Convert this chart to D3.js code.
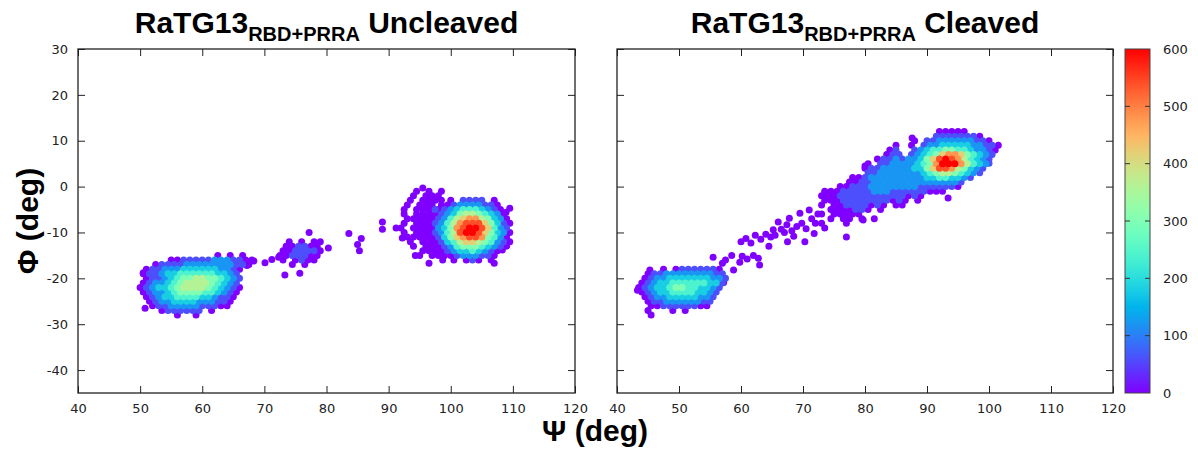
<!DOCTYPE html>
<html>
<head>
<meta charset="utf-8">
<script src="https://cdn.jsdelivr.net/npm/d3@7"></script>
<style>
  body { margin: 0; background: #fff; }
</style>
</head>
<body>
<div id="chart"></div>
<script>
// Axis ticks
const psiTicks = [40, 50, 60, 70, 80, 90, 100, 110, 120];
const phiTicks = [30, 20, 10, 0, -10, -20, -30, -40];
const cbTicks = [0, 100, 200, 300, 400, 500, 600];
const panelTitles = ["Uncleaved", "Cleaved"];

// Density: each row is [phi, first psi, cells],
// one cell per degree of psi, "." = no point, hex digit = density / 60
const uncleavedRows = [
    // cluster around psi 60
    [-15, 62.5, "0.0.0"],
    [-16, 55, "00111112221100"],
    [-17, 52.5, "0111122222222110"],
    [-18, 51, "0112223333332210"],
    [-19, 50.5, "0112334444443321"],
    [-20, 51, "0112345566554321"],
    [-21, 50.5, "0122345666654321"],
    [-22, 50, "01233456666543210"],
    [-23, 50.5, "0122345555443210"],
    [-24, 51, "012334444332110"],
    [-25, 51.5, "01223333222110"],
    [-26, 52, "0112222211100"],
    [-27, 53.5, "0111111.0"],
    [-28, 56, "0..0"],
    // small group around psi 75
    [-10, 77.2, "0"],
    [-12, 74, "0.0.00"],
    [-13, 73.5, "001100"],
    [-14, 73, "0011110"],
    [-15, 72.5, "0011100"],
    [-16, 73, "0.0100"],
    [-17, 74.5, "0.0"],
    // sparse shoulder left of the psi 103 cluster
    [-1, 94.5, "0.0.0"],
    [-2, 94, "0.000"],
    [-3, 93.5, "0.0000"],
    [-4, 93, "0.000"],
    [-5, 92.5, "0.0001"],
    [-6, 92.5, "0.000"],
    [-7, 92, ".0000"],
    [-8, 92.5, "0.00"],
    [-9, 92, "0.000"],
    [-10, 92.5, "0.00"],
    [-11, 93, "0000"],
    [-12, 93.5, "0.000"],
    [-13, 94, "0.00"],
    [-14, 95.5, "000"],
    [-15, 95, "0.00"],
    // cluster around psi 103
    [-3, 100, "0.1111.0"],
    [-4, 98.5, "0012222110"],
    [-5, 98, "01234443210"],
    [-6, 97.5, "012356654320"],
    [-7, 97, "0124678865320"],
    [-8, 96.5, "01246899975310"],
    [-9, 97, "023589aa97421"],
    [-10, 96.5, "012469aa975320"],
    [-11, 97, "0135789985420"],
    [-12, 97.5, "0134677654210"],
    [-13, 98, "012455543210"],
    [-14, 98.5, "0123343210"],
    [-15, 99, "001222110"],
    [-16, 100.5, "0.010.0"]
];
// scattered single points [psi, phi, density / 60]
const uncleavedSingles = [
    [50.5, -18.8, 0], [50.8, -26.5, 0], [66.5, -16.5, 0], [67.2, -17.2, 0],
    [68.3, -16.2, 0], [70.1, -16.6, 0], [71.2, -15.9, 0], [72.3, -15.4, 0],
    [73.3, -19.3, 0], [75.7, -18.9, 0], [80.3, -13.4, 0], [83.6, -10.2, 0],
    [85.0, -12.6, 0], [85.3, -14.0, 0], [85.6, -11.3, 0], [89.0, -7.7, 0],
    [89.0, -9.3, 0], [91.2, -9.0, 0], [92.2, -11.2, 0], [94.3, -15.0, 0],
    [96.5, -16.7, 0], [98.7, -16.0, 0], [107.0, -16.7, 0], [108.3, -13.8, 0],
    [109.5, -4.7, 0], [108.9, -5.6, 0], [104.3, -3.2, 0], [95.5, -0.3, 0]
];

const cleavedRows = [
    // cluster around psi 50
    [-18, 47.5, "0.01111110"],
    [-19, 45, "0112222222211"],
    [-20, 44.5, "01223333333221"],
    [-21, 44, "01233444444331"],
    [-22, 43.5, "01233455443321"],
    [-23, 44, "0123344443321"],
    [-24, 44.5, "012233333221"],
    [-25, 45, "01122222211"],
    [-26, 45.5, "0011111100"],
    [-27, 45, "0...0.0"],
    [-28, 45.5, "0"],
    // band psi 73-85
    [9, 73, "............0"],
    [8, 73, "...........01"],
    [7, 73.5, "..........011"],
    [6, 73, ".........0112"],
    [5, 73.5, ".......0.1122"],
    [4, 73, ".......011222"],
    [3, 73.5, ".......112222"],
    [2, 73, ".....00122222"],
    [1, 73.5, "....001122222"],
    [0, 73, "...0011122222"],
    [-1, 73.5, "0001111122211"],
    [-2, 73, "0001111111111"],
    [-3, 73.5, "0001111111101"],
    [-4, 73, "0.001111010.0"],
    [-5, 73.5, ".0000110.0"],
    [-6, 73, "0.00000"],
    [-7, 73.5, ".0.00.0.0"],
    [-8, 73, "0...0"],
    [-9, 73.5, "0"],
    [-11, 77, "0"],
    // cluster around psi 93
    [12, 86, "......00000"],
    [11, 86.5, ".....11111110"],
    [10, 86, "..0.11222222110"],
    [9, 86.5, ".0.1223333322110"],
    [8, 86, "..12344554432210"],
    [7, 86.5, ".12345788754321"],
    [6, 86, "1223579a9864321"],
    [5, 86.5, "223458aaa86432"],
    [4, 86, "22335799865321"],
    [3, 86.5, "2223456654321"],
    [2, 86, "222233443321"],
    [1, 86.5, "2222222221"],
    [0, 86, "2221111110"],
    [-1, 86.5, "1111000"],
    [-2, 86, "1010"],
    [-3, 86.5, "0.0"],
    [-4, 86, "0"]
];
const cleavedSingles = [
    [43.3, -22.6, 0], [45.3, -18.2, 0], [55.5, -15.4, 0], [57.0, -16.7, 0],
    [57.2, -20.9, 0], [57.5, -16.0, 0], [58.5, -15.0, 0], [58.8, -18.2, 0],
    [59.8, -16.5, 0], [60.2, -15.2, 0], [61.0, -15.8, 0], [62.0, -15.0, 0],
    [62.8, -15.6, 0], [63.0, -17.1, 0], [60.0, -12.0, 0], [60.8, -11.3, 0],
    [61.6, -12.3, 0], [62.3, -10.6, 0], [63.2, -11.5, 0], [64.0, -10.4, 0],
    [64.8, -11.0, 0], [65.2, -9.4, 0], [65.5, -10.6, 0], [66.0, -7.7, 0],
    [66.5, -9.3, 0], [67.0, -10.0, 0], [67.4, -8.3, 0], [67.8, -6.9, 0],
    [68.2, -9.6, 0], [68.5, -10.8, 0], [69.0, -8.7, 0], [69.5, -5.8, 0],
    [69.8, -8.0, 0], [70.3, -12.0, 0], [70.5, -9.2, 0], [71.0, -5.1, 0],
    [71.4, -7.0, 0], [72.4, -6.0, 0], [72.0, -8.0, 0], [71.8, -10.2, 0],
    [64.5, -13.0, 0], [67.5, -12.0, 0], [80.0, 4.5, 0], [83.7, 6.9, 0],
    [79.7, -7.3, 0], [93.4, -2.5, 0], [87.6, 10.6, 0], [100.0, 5.1, 1]
];

// gnuplot-like rainbow palette
function rainbow(d) {
    const t = Math.max(0, Math.min(1, d / 600));
    return d3.rgb(255 * Math.abs(2 * t - 0.5), 255 * Math.sin(Math.PI * t), 255 * Math.cos(Math.PI * t / 2)).formatHex();
}

function toPoints(rows, singles) {
    const pts = [];
    rows.forEach(([phi, psi0, cells]) => {
        cells.split("").forEach((c, i) => {
            if (c !== ".") pts.push({ psi: psi0 + i, phi: phi, d: parseInt(c, 16) * 60 });
        });
    });
    singles.forEach(([psi, phi, lvl]) => pts.push({ psi: psi, phi: phi, d: lvl * 60 }));
    return pts.sort((a, b) => a.d - b.d);
}

const width = 1198, height = 454;
const plotTop = 49, plotBottom = 393;
const svg = d3.select("#chart").append("svg")
    .attr("width", width)
    .attr("height", height);

const yScale = d3.scaleLinear().domain([-45, 30]).range([plotBottom, plotTop]);

const panels = [
    { title: panelTitles[0], x0: 78, x1: 575, pts: toPoints(uncleavedRows, uncleavedSingles), labels: true },
    { title: panelTitles[1], x0: 617, x1: 1113, pts: toPoints(cleavedRows, cleavedSingles), labels: false }
];

const tickFont = "'DejaVu Sans', sans-serif";

panels.forEach(p => {
    const xScale = d3.scaleLinear().domain([40, 120]).range([p.x0, p.x1]);
    const g = svg.append("g");

    // points
    g.selectAll("circle")
        .data(p.pts)
        .join("circle")
        .attr("cx", d => xScale(d.psi))
        .attr("cy", d => yScale(d.phi))
        .attr("r", 3.5)
        .attr("fill", d => rainbow(d.d));

    // axes with inward ticks
    g.append("g").attr("transform", `translate(0,${plotBottom})`)
        .call(d3.axisBottom(xScale).tickValues(psiTicks).tickSize(-7).tickSizeOuter(0).tickPadding(11));
    g.append("g").attr("transform", `translate(0,${plotTop})`)
        .call(d3.axisTop(xScale).tickValues(psiTicks).tickSize(-7).tickSizeOuter(0).tickFormat(""));
    g.append("g").attr("transform", `translate(${p.x0},0)`)
        .call(d3.axisLeft(yScale).tickValues(phiTicks).tickSize(-7).tickSizeOuter(0).tickPadding(10)
            .tickFormat(p.labels ? d => d : ""));
    g.append("g").attr("transform", `translate(${p.x1},0)`)
        .call(d3.axisRight(yScale).tickValues(phiTicks).tickSize(-7).tickSizeOuter(0).tickFormat(""));

    g.selectAll(".tick line").attr("stroke", "#222");
    g.selectAll(".domain").remove();
    g.selectAll(".tick text")
        .attr("fill", "#222")
        .style("font-family", tickFont)
        .style("font-size", "13px");

    // frame
    g.append("rect")
        .attr("x", p.x0).attr("y", plotTop)
        .attr("width", p.x1 - p.x0).attr("height", plotBottom - plotTop)
        .attr("fill", "none")
        .attr("stroke", "#222")
        .attr("stroke-width", 1.3);

    // title
    const t = g.append("text")
        .attr("x", (p.x0 + p.x1) / 2)
        .attr("y", 33)
        .attr("text-anchor", "middle")
        .style("font-family", "'Liberation Sans', Arial, sans-serif")
        .style("font-weight", "bold")
        .style("font-size", "30px")
        .style("white-space", "pre");
    t.append("tspan").text("RaTG13");
    t.append("tspan").attr("dy", 8).style("font-size", "20px").text("RBD+PRRA");
    t.append("tspan").attr("dy", -8).text(" " + p.title);
});

// axis labels
svg.append("text")
    .attr("x", 595)
    .attr("y", 441)
    .attr("text-anchor", "middle")
    .style("font-family", "'Liberation Sans', Arial, sans-serif")
    .style("font-weight", "bold")
    .style("font-size", "30px")
    .text("Ψ (deg)");
svg.append("text")
    .attr("transform", "rotate(-90)")
    .attr("x", -221)
    .attr("y", 38)
    .attr("text-anchor", "middle")
    .style("font-family", "'Liberation Sans', Arial, sans-serif")
    .style("font-weight", "bold")
    .style("font-size", "30px")
    .text("Φ (deg)");

// colour bar
const cbX = 1125, cbW = 25;
const cbScale = d3.scaleLinear().domain([0, 600]).range([plotBottom, plotTop]);
const grad = svg.append("defs").append("linearGradient")
    .attr("id", "cbGrad")
    .attr("x1", 0).attr("y1", 1).attr("x2", 0).attr("y2", 0);
d3.range(0, 601, 25).forEach(v => {
    grad.append("stop").attr("offset", v / 600).attr("stop-color", rainbow(v));
});
svg.append("rect")
    .attr("x", cbX).attr("y", plotTop)
    .attr("width", cbW).attr("height", plotBottom - plotTop)
    .attr("fill", "url(#cbGrad)")
    .attr("stroke", "#444")
    .attr("stroke-width", 1);
const cb = svg.append("g");
cb.selectAll("path")
    .data(cbTicks.filter(v => v > 0 && v < 600))
    .join("path")
    .attr("d", v => `M${cbX},${cbScale(v)}h5M${cbX + cbW},${cbScale(v)}h-5`)
    .attr("stroke", "#333");
cb.selectAll("text")
    .data(cbTicks)
    .join("text")
    .attr("x", cbX + cbW + 13)
    .attr("y", v => cbScale(v))
    .attr("dy", "0.35em")
    .attr("fill", "#222")
    .style("font-family", tickFont)
    .style("font-size", "13px")
    .text(v => v);
</script>
</body>
</html>
